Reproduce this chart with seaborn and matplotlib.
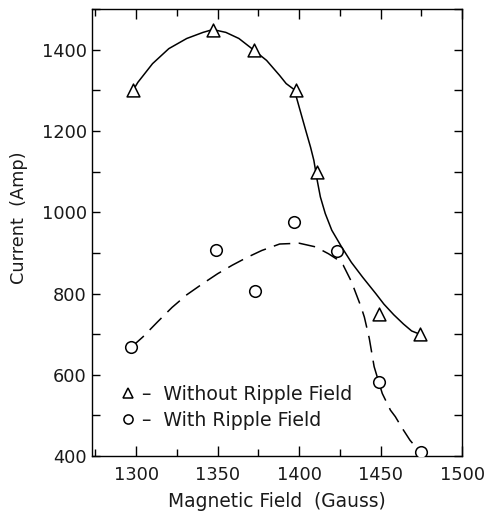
import numpy as np
import pandas as pd
import matplotlib
matplotlib.use("Agg")
import matplotlib.pyplot as plt
from matplotlib.lines import Line2D
from matplotlib.ticker import MultipleLocator
import seaborn as sns

# --- measured data points ---
without_x = [1298, 1347, 1372, 1398, 1411, 1449, 1474]
without_y = [1300, 1450, 1400, 1300, 1100, 750, 700]

with_x = [1297, 1349, 1373, 1397, 1423, 1449, 1475]
with_y = [668, 908, 806, 977, 904, 582, 410]

# --- hand-drawn fit curves ---
solid_x = [1298, 1301, 1310, 1320, 1331, 1341, 1347, 1355, 1363, 1371, 1380, 1388,
           1392, 1397, 1400, 1404, 1407, 1409, 1411, 1413, 1416, 1420, 1426, 1432,
           1439, 1447, 1452, 1458, 1464, 1469, 1474]
solid_y = [1300, 1320, 1366, 1403, 1428, 1443, 1450, 1443, 1428, 1403, 1374, 1337,
           1317, 1302, 1259, 1202, 1160, 1128, 1080, 1038, 997, 956, 915, 877,
           840, 800, 774, 748, 725, 708, 700]

dash_x = [1297, 1304, 1313, 1322, 1331, 1341, 1350, 1359, 1368, 1377, 1388, 1400,
          1410, 1418, 1423, 1427, 1432, 1438, 1440, 1443, 1446, 1449, 1451, 1456,
          1459, 1463, 1468, 1472, 1476]
dash_y = [668, 693, 730, 766, 797, 825, 849, 870, 889, 906, 922, 924,
          915, 898, 885, 870, 830, 767, 742, 690, 620, 580, 554, 513,
          497, 470, 439, 420, 405]

x_ticks = [1300, 1350, 1400, 1450, 1500]
y_ticks = [400, 600, 800, 1000, 1200, 1400]

sns.set_style("ticks")
plt.rcParams['font.family'] = ['DejaVu Sans']

fig = plt.figure(figsize=(4.88, 5.13), dpi=100)
ax = fig.add_axes([0.189, 0.111, 0.758, 0.871])

sns.lineplot(x=solid_x, y=solid_y, sort=False, color='black', lw=1.1, ax=ax, zorder=2)
sns.lineplot(x=dash_x, y=dash_y, sort=False, color='black', lw=1.1, ax=ax, zorder=2,
             linestyle=(0, (11.0, 5.5)))

sns.scatterplot(x=without_x, y=without_y, marker='^', s=85, facecolor='white',
                edgecolor='black', linewidth=1.1, ax=ax, zorder=3)
sns.scatterplot(x=with_x, y=with_y, marker='o', s=70, facecolor='white',
                edgecolor='black', linewidth=1.1, ax=ax, zorder=3)

ax.set_xlim(1273, 1500)
ax.set_ylim(400, 1500)
ax.set_xticks(x_ticks)
ax.set_xticklabels([str(t) for t in x_ticks])
ax.xaxis.set_minor_locator(MultipleLocator(25))
ax.set_yticks(y_ticks)
ax.set_yticklabels([str(t) for t in y_ticks])
ax.yaxis.set_minor_locator(MultipleLocator(100))

ax.tick_params(axis='both', which='both', direction='in', top=True, right=True,
               width=1.0, color='black', labelsize=12.8, labelcolor='#1a1a1a')
ax.tick_params(axis='x', which='major', length=7, pad=7)
ax.tick_params(axis='x', which='minor', length=5)
ax.tick_params(axis='y', which='both', length=5.5, pad=4)
for sp in ax.spines.values():
    sp.set_visible(True)
    sp.set_linewidth(1.0)
    sp.set_color('black')

ax.set_xlabel('Magnetic Field  (Gauss)', fontsize=13.4, color='#1a1a1a', labelpad=6)
ax.set_ylabel('Current  (Amp)', fontsize=12.8, color='#1a1a1a', labelpad=10)
ax.yaxis.label.set_y(0.534)

handles = [Line2D([], [], marker='^', ls='none', mfc='white', mec='black', ms=7.2, mew=1.1),
           Line2D([], [], marker='o', ls='none', mfc='white', mec='black', ms=6.6, mew=1.1)]
labels = ['–  Without Ripple Field', '–  With Ripple Field']
ax.legend(handles, labels, loc='center left', bbox_to_anchor=(0.076, 0.1086), frameon=False,
          fontsize=13.6, handlelength=0.8, handletextpad=0.35, labelspacing=0.37,
          borderaxespad=0.0, borderpad=0.0, labelcolor='#1a1a1a')

fig.savefig('out.png', dpi=100)
